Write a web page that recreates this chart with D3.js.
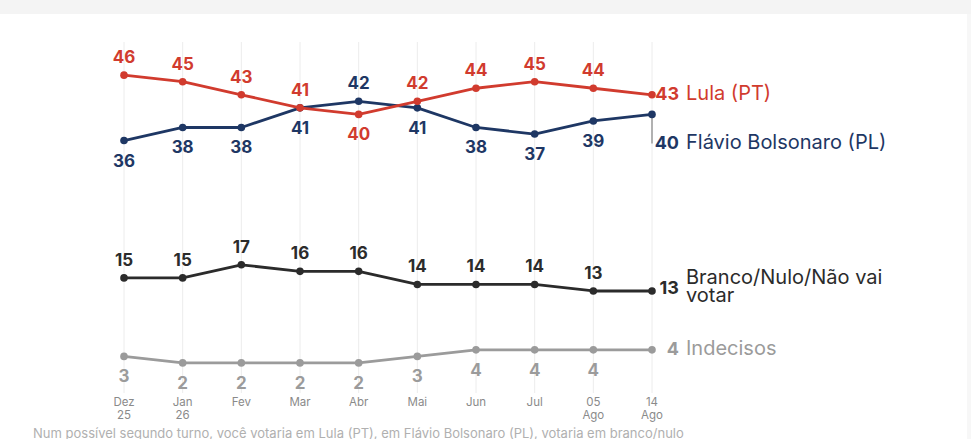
<!DOCTYPE html>
<html>
<head>
<meta charset="utf-8">
<script src="https://cdn.jsdelivr.net/npm/d3@7"></script>
<style>
  html, body { margin: 0; padding: 0; background: #fff; overflow: hidden; }
  svg { display: block; font-family: Inter, "Noto Sans", sans-serif; }
</style>
</head>
<body>
<div id="chart"></div>
<script>
// Dati (pesquisa segundo turno)
var xLabels = [["Dez", "25"], ["Jan", "26"], ["Fev"], ["Mar"], ["Abr"], ["Mai"], ["Jun"], ["Jul"], ["05", "Ago"], ["14", "Ago"]];
var lula = [46, 45, 43, 41, 40, 42, 44, 45, 44, 43];
var flavio = [36, 38, 38, 41, 42, 41, 38, 37, 39, 40];
var branco = [15, 15, 17, 16, 16, 14, 14, 14, 13, 13];
var indecisos = [3, 2, 2, 2, 2, 3, 4, 4, 4, 4];
var subtitle = "Num possível segundo turno, você votaria em Lula (PT), em Flávio Bolsonaro (PL), votaria em branco/nulo";

var width = 971;
var height = 439;

var svg = d3.select("#chart").append("svg")
  .attr("width", width)
  .attr("height", height);

// fascia grigia in alto e a destra
svg.append("rect").attr("x", 0).attr("y", 0).attr("width", width).attr("height", 14).attr("fill", "#f4f4f4");
svg.append("rect").attr("x", 967).attr("y", 14).attr("width", 4).attr("height", height - 14).attr("fill", "#f7f7f7");

// Scale
var x = d3.scalePoint()
  .domain(d3.range(xLabels.length))
  .range([124, 652]);

var y = d3.scaleLinear()
  .domain([0, 50])
  .range([376, 49]);

// Griglia verticale
svg.append("g")
  .selectAll("line")
  .data(x.domain())
  .enter()
  .append("line")
  .attr("x1", d => x(d)).attr("x2", d => x(d))
  .attr("y1", 42).attr("y2", 393)
  .attr("stroke", "#ececec")
  .attr("stroke-width", 1);

// Etichette asse x
var xAxis = svg.append("g");
xLabels.forEach((lines, i) => {
  var t = xAxis.append("text")
    .attr("x", x(i))
    .attr("y", 406)
    .attr("text-anchor", "middle")
    .attr("fill", "#8a8a8a")
    .style("font-size", "11.5px");
  lines.forEach((l, j) => {
    t.append("tspan").attr("x", x(i)).attr("dy", j === 0 ? 0 : 12.5).text(l);
  });
});

// connettore per l'etichetta di Flávio
var last = xLabels.length - 1;
svg.append("line")
  .attr("x1", x(last)).attr("x2", x(last))
  .attr("y1", y(flavio[last])).attr("y2", y(flavio[last]) + 29)
  .attr("stroke", "#9a9a9a")
  .attr("stroke-width", 1.5);

var line = d3.line()
  .x((d, i) => x(i))
  .y(d => y(d));

var series = [
  { name: "indecisos", values: indecisos, color: "#9b9b9b", above: () => false },
  { name: "branco", values: branco, color: "#2b2b2b", above: () => true },
  { name: "flavio", values: flavio, color: "#1e3764", above: i => flavio[i] > lula[i] },
  { name: "lula", values: lula, color: "#d13b2e", above: i => lula[i] >= flavio[i] }
];

series.forEach(s => {
  var g = svg.append("g");
  g.append("path")
    .datum(s.values)
    .attr("d", line)
    .attr("fill", "none")
    .attr("stroke", s.color)
    .attr("stroke-width", 2.8)
    .attr("stroke-linejoin", "round");

  g.selectAll("circle")
    .data(s.values)
    .enter()
    .append("circle")
    .attr("cx", (d, i) => x(i))
    .attr("cy", d => y(d))
    .attr("r", 3.8)
    .attr("fill", s.color);

  // valori (tranne l'ultimo, che va nell'etichetta finale)
  g.selectAll("text")
    .data(s.values.slice(0, last))
    .enter()
    .append("text")
    .attr("x", (d, i) => x(i))
    .attr("y", (d, i) => s.above(i) ? y(d) - 12 : y(d) + 26)
    .attr("text-anchor", "middle")
    .attr("fill", s.color)
    .style("font-size", "17px")
    .style("font-weight", 700)
    .text(d => d);
});

// Etichette finali
function endLabel(value, names, baseline, color) {
  svg.append("text")
    .attr("x", 679)
    .attr("y", baseline + (names.length > 1 ? 10 : 0))
    .attr("text-anchor", "end")
    .attr("fill", color)
    .style("font-size", "18px")
    .style("font-weight", 700)
    .text(value);
  var t = svg.append("text")
    .attr("x", 686)
    .attr("y", baseline)
    .attr("fill", color)
    .style("font-size", "20px")
    .style("font-weight", 400);
  names.forEach((n, j) => {
    t.append("tspan").attr("x", 686).attr("dy", j === 0 ? 0 : 18).text(n);
  });
}

endLabel(lula[last], ["Lula (PT)"], 100, "#d13b2e");
endLabel(flavio[last], ["Flávio Bolsonaro (PL)"], 149, "#1e3764");
endLabel(branco[last], ["Branco/Nulo/Não vai", "votar"], 284, "#2b2b2b");
endLabel(indecisos[last], ["Indecisos"], 355, "#9b9b9b");

// Sottotitolo (tagliato in basso)
svg.append("text")
  .attr("x", 33)
  .attr("y", 438)
  .attr("fill", "#b0b0b0")
  .style("font-size", "13px")
  .text(subtitle);
</script>
</body>
</html>
